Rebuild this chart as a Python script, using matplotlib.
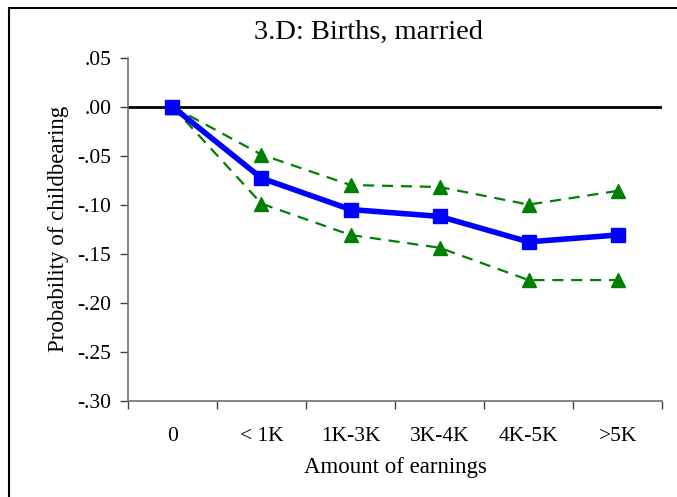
import matplotlib
matplotlib.use("Agg")
import matplotlib.pyplot as plt
from matplotlib.patches import Rectangle

plt.rcParams["font.family"] = ["Liberation Serif", "DejaVu Serif"]

# Data
categories = ["0", "< 1K", "1K-3K", "3K-4K", "4K-5K", ">5K"]
estimate = [0.0, -0.073, -0.105, -0.112, -0.138, -0.131]
upper_ci = [0.0, -0.049, -0.080, -0.082, -0.100, -0.086]
lower_ci = [0.0, -0.099, -0.131, -0.144, -0.177, -0.177]
yticks = [0.05, 0.0, -0.05, -0.10, -0.15, -0.20, -0.25, -0.30]
ytick_labels = [".05", ".00", "-.05", "-.10", "-.15", "-.20", "-.25", "-.30"]

fig = plt.figure(figsize=(6.77, 4.97), dpi=100)
ax = fig.add_axes([0.189, 0.194, 0.789, 0.690])

x = list(range(len(categories)))

ax.axhline(0, color="black", lw=2, zorder=1)
ax.plot(x, upper_ci, color="#008000", lw=1.6, ls=(0, (5, 3.5)),
        marker="^", ms=10, zorder=2)
ax.plot(x, lower_ci, color="#008000", lw=1.6, ls=(0, (5, 3.5)),
        marker="^", ms=10, zorder=2)
ax.plot(x, estimate, color="#0000ff", lw=4, marker="s", ms=10, zorder=3)

ax.set_xlim(-0.5, len(categories) - 0.5)
ax.set_ylim(-0.30, 0.05)

ax.set_yticks(yticks)
ax.set_yticklabels(ytick_labels, fontsize=15.5)
ax.tick_params(axis="y", direction="out", length=6, width=1, color="#404040", pad=6)

# labels at category centres, tick marks at category boundaries
ax.set_xticks(x)
ax.set_xticklabels(categories, fontsize=15.5)
ax.set_xticks([i - 0.5 for i in range(len(categories) + 1)], minor=True)
ax.tick_params(axis="x", which="major", length=0, pad=19)
ax.tick_params(axis="x", which="minor", direction="out", length=6, width=1, color="#404040")

for side in ["top", "right"]:
    ax.spines[side].set_visible(False)
for side in ["left", "bottom"]:
    ax.spines[side].set_color("#707070")
    ax.spines[side].set_linewidth(1.2)

ax.set_xlabel("Amount of earnings", fontsize=16.5, labelpad=8)
ax.set_ylabel("Probability of childbearing", fontsize=16.5, labelpad=6)

fig.text(0.544, 0.934, "3.D: Births, married", fontsize=20.5, ha="center", va="center")

# outer frame (only left and top edges visible in the crop)
fig.patches.append(Rectangle((9 / 677, -0.1), 1.0, 1.1 - 8 / 497, transform=fig.transFigure,
                             fill=False, edgecolor="black", lw=1.5))

fig.savefig("out.png", dpi=100)
